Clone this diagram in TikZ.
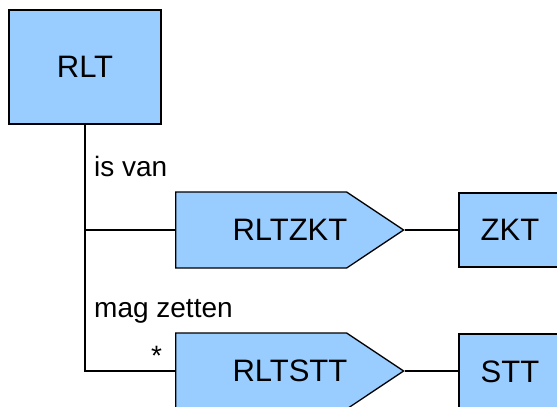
\documentclass[tikz,border=0pt]{standalone}
\usepackage{fontspec}
\setmainfont{Liberation Sans}
\usetikzlibrary{shapes.symbols,calc}
\definecolor{boxblue}{HTML}{99CCFF}
\tikzset{%
  entity/.style   = {shape=rectangle, draw, line width=1.6pt,%
                     fill=boxblue, font=\fontsize{31}{36}\selectfont},%
  relation/.style = {shape=signal, signal to=east, signal pointer angle=67.4,%
                     draw, line width=1.3pt, fill=boxblue, anchor=west,%
                     minimum height=76pt, minimum width=228pt},%
  reltext/.style  = {inner sep=0pt, font=\fontsize{31}{36}\selectfont},%
  role/.style     = {anchor=base west, inner sep=0pt,%
                     font=\fontsize{28}{32}\selectfont},%
  link/.style     = {line width=1.5pt}%
}

\begin{document}
\begin{tikzpicture}[x=1pt, y=-1pt]%
	\useasboundingbox (0,0) rectangle (557,407);%
	\clip (0,0) rectangle (557,407);%
	% entities and relations
	\node [entity, minimum width=152pt, minimum height=114pt] (rlt) at (85,67) {RLT};%
	\node [relation] (rltzkt) at (175,230) {};%
	\node [reltext] (rltzkt-name) at ($(rltzkt.west)!.5!(rltzkt.east)$) {RLTZKT};%
	\node [relation] (rltstt) at (175,371) {};%
	\node [reltext] (rltstt-name) at ($(rltstt.west)!.5!(rltstt.east)$) {RLTSTT};%
	\node [entity, minimum width=102pt, minimum height=74pt] (zkt) at (510,230) {ZKT};%
	\node [entity, minimum width=102pt, minimum height=76pt] (stt) at (510,372) {STT};%
	% connectors
	\coordinate (fork) at (rlt.south |- rltzkt.west);%
	\coordinate (knee) at (rlt.south |- rltstt.west);%
	\draw [link] (rlt.south) -- (knee) -- (rltstt.west);%
	\draw [link] (fork) -- (rltzkt.west);%
	\draw [link] (rltzkt.east) -- (zkt.west);%
	\draw [link] (rltstt.east) -- (stt.west |- rltstt.east);%
	% role names
	\node [role] (isvan) at (94,176) {is van};%
	\node [role] (magzetten) at (94,317) {mag zetten};%
	\node [role, anchor=center] (mult) at (156.5,356) {*};%
\end{tikzpicture}
\end{document}
